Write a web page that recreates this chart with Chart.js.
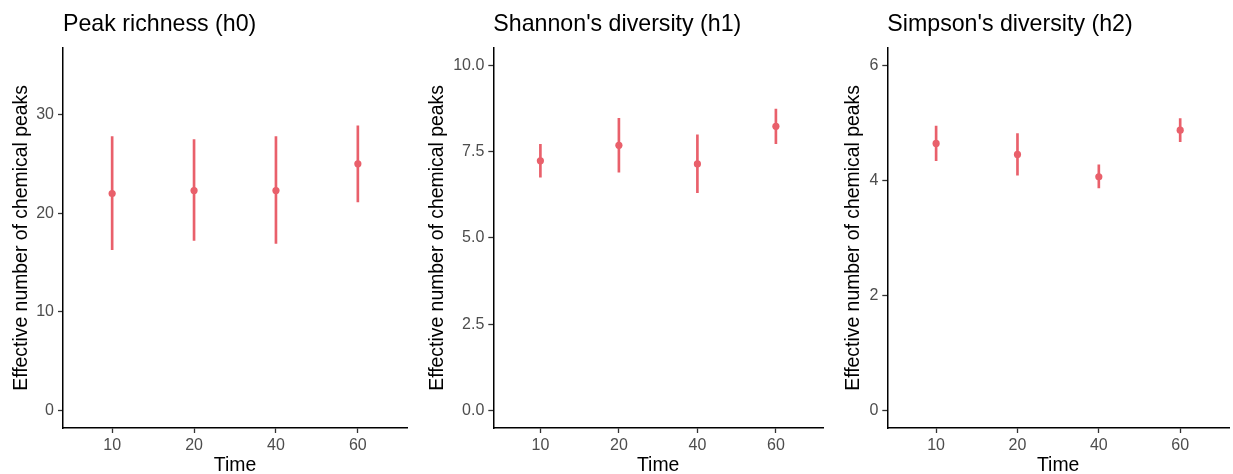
<!DOCTYPE html>
<html>
<head>
<meta charset="utf-8">
<script src="https://cdn.jsdelivr.net/npm/chart.js@4.4.0/dist/chart.umd.min.js"></script>
<style>
  body { margin: 0; background: #fff; width: 1233px; height: 474px; position: relative; overflow: hidden; }
  canvas { position: absolute; top: 0; }
</style>
</head>
<body>
<canvas id="c1" width="411" height="474" style="left:0px"></canvas>
<canvas id="c2" width="416" height="474" style="left:411px"></canvas>
<canvas id="c3" width="406" height="474" style="left:827px"></canvas>
<script>
const times = ['10', '20', '40', '60'];

const richMean = [22.0, 22.3, 22.3, 25.0];
const richLow  = [16.3, 17.25, 16.95, 21.15];
const richHigh = [27.76, 27.46, 27.76, 28.84];

const shanMean = [7.23, 7.68, 7.14, 8.23];
const shanLow  = [6.76, 6.90, 6.31, 7.73];
const shanHigh = [7.71, 8.46, 7.98, 8.73];

const simpMean = [4.64, 4.45, 4.06, 4.87];
const simpLow  = [4.34, 4.09, 3.87, 4.67];
const simpHigh = [4.94, 4.81, 4.27, 5.07];

const richTicks = [0, 10, 20, 30];
const shanTicks = [0, 2.5, 5, 7.5, 10];
const simpTicks = [0, 2, 4, 6];

const red = '#E9606B';
Chart.defaults.font.family = '"Liberation Sans", Arial, sans-serif';

function makeChart(id, title, mean, low, high, yTicks, yMin, yMax, decimals, yWidth, padRight, yTitlePad) {
  new Chart(document.getElementById(id), {
    type: 'scatter',
    data: {
      datasets: [{
        type: 'scatter',
        order: 0,
        data: times.map((t, i) => ({ x: i, y: mean[i] })),
        pointRadius: 3.6,
        pointBackgroundColor: red,
        pointBorderWidth: 0
      }, {
        type: 'bar',
        order: 1,
        data: times.map((t, i) => ({ x: i, y: [low[i], high[i]] })),
        barThickness: 2,
        backgroundColor: red,
        borderWidth: 0
      }]
    },
    options: {
      responsive: false,
      animation: false,
      layout: { padding: { left: 0, right: padRight, top: 0, bottom: 0 } },
      plugins: {
        legend: { display: false },
        tooltip: { enabled: false },
        title: {
          display: true,
          text: title,
          align: 'start',
          fullSize: false,
          color: '#000',
          font: { size: 23.2, weight: 'normal' },
          padding: { top: 11, bottom: 9 }
        }
      },
      scales: {
        x: {
          type: 'linear',
          offset: false,
          min: -0.6,
          max: 3.6,
          afterBuildTicks: s => { s.ticks = times.map((t, i) => ({ value: i })); },
          afterFit: s => { s.height = 46; },
          ticks: {
            callback: v => times[v],
            color: '#4d4d4d',
            font: { size: 16 },
            padding: 3,
            maxRotation: 0
          },
          grid: { offset: false, drawOnChartArea: false, tickLength: 5, tickColor: '#333', tickWidth: 1.3 },
          border: { color: '#000', width: 1.5 },
          title: {
            display: true,
            text: 'Time',
            color: '#000',
            font: { size: 19.4, lineHeight: 0.9 },
            padding: { top: 0, bottom: 0 }
          }
        },
        y: {
          type: 'linear',
          min: yMin,
          max: yMax,
          afterBuildTicks: s => { s.ticks = yTicks.map(v => ({ value: v })); },
          afterFit: s => { s.width = yWidth; },
          ticks: {
            callback: v => v.toFixed(decimals),
            color: '#4d4d4d',
            font: { size: 16 },
            padding: 4
          },
          grid: { drawOnChartArea: false, tickLength: 5, tickColor: '#333', tickWidth: 1.3 },
          border: { color: '#000', width: 1.5 },
          title: {
            display: true,
            text: 'Effective number of chemical peaks',
            color: '#000',
            font: { size: 19.4 },
            padding: { top: yTitlePad, bottom: 0 }
          }
        }
      }
    }
  });
}

makeChart('c1', 'Peak richness (h0)', richMean, richLow, richHigh, richTicks, -1.75, 36.75, 0, 63, 2, 10.5);
makeChart('c2', "Shannon's diversity (h1)", shanMean, shanLow, shanHigh, shanTicks, -0.5, 10.5, 1, 82.3, 2, 15.5);
makeChart('c3', "Simpson's diversity (h2)", simpMean, simpLow, simpHigh, simpTicks, -0.3, 6.3, 0, 60.3, 0, 15.5);
</script>
</body>
</html>
